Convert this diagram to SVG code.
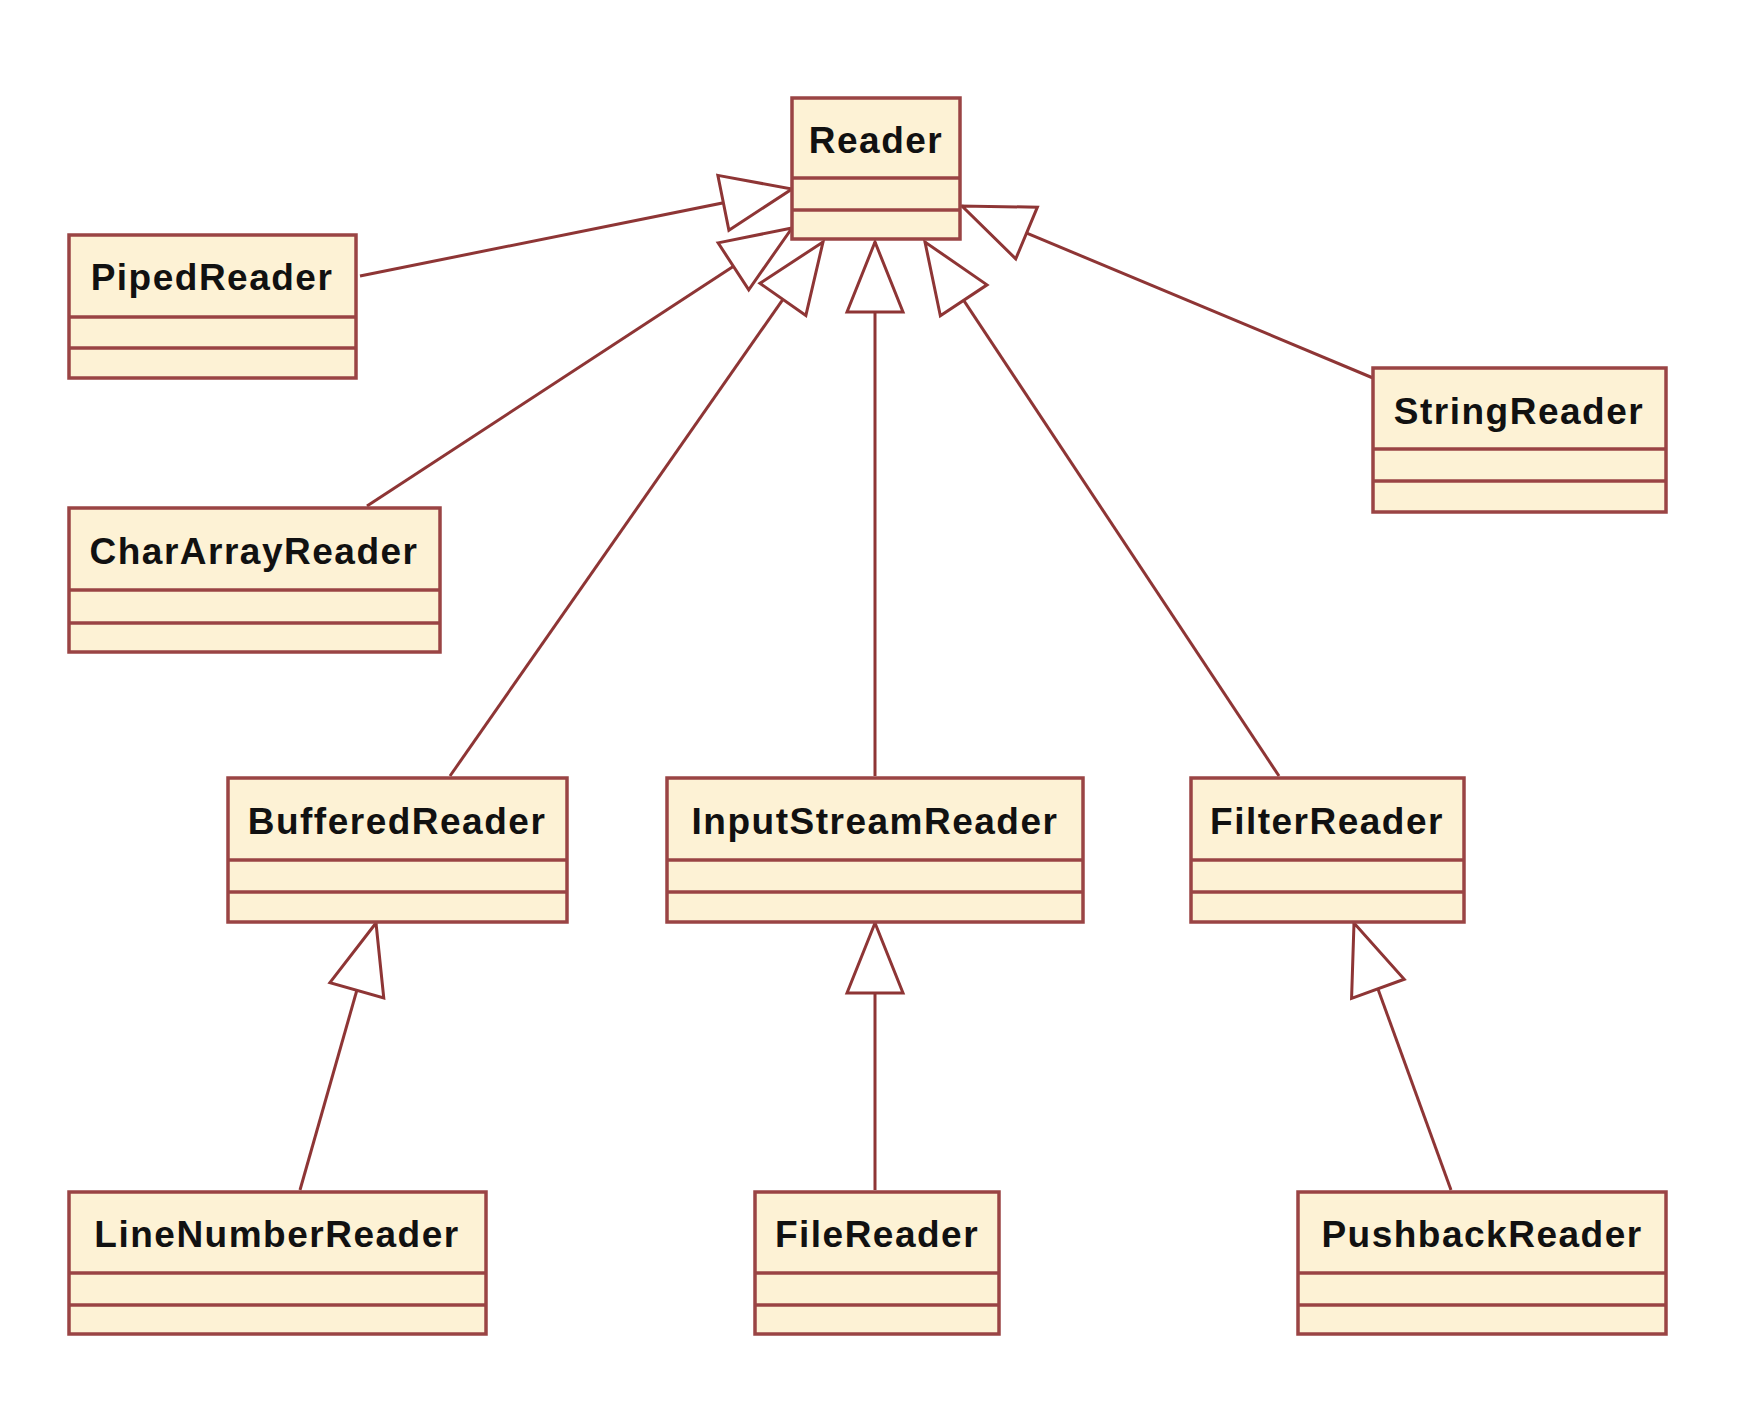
<svg xmlns="http://www.w3.org/2000/svg" width="1738" height="1404" viewBox="0 0 1738 1404">
<style>
.box{fill:#fdf2d5;stroke:#9a4444;stroke-width:3.5}
.sep{stroke:#9a4444;stroke-width:3.5}
.t{font-family:"Liberation Sans",Arial,sans-serif;font-weight:bold;font-size:37px;fill:#111;text-anchor:middle;letter-spacing:1.5px}
.c{stroke:#8e3535;stroke-width:3;fill:none;marker-end:url(#tri)}
</style>
<defs>
<marker id="tri" markerUnits="userSpaceOnUse" markerWidth="80" markerHeight="70" viewBox="-4 -34 80 68" refX="70" refY="0" orient="auto">
<path d="M0,-28 L70,0 L0,28 Z" fill="#fff" stroke="#8e3535" stroke-width="3"/>
</marker>
</defs>
<rect width="1738" height="1404" fill="#fff"/>
<g id="connectors">
<line class="c" x1="360" y1="276" x2="792" y2="189"/>
<line class="c" x1="367" y1="506" x2="792" y2="228"/>
<line class="c" x1="450" y1="776" x2="823" y2="242"/>
<line class="c" x1="875" y1="776" x2="875" y2="242"/>
<line class="c" x1="1279" y1="776" x2="925" y2="242"/>
<line class="c" x1="1373" y1="378" x2="962" y2="206"/>
<line class="c" x1="300" y1="1190" x2="376" y2="923"/>
<line class="c" x1="875" y1="1190" x2="875" y2="923"/>
<line class="c" x1="1451" y1="1190" x2="1354" y2="923"/>
</g>
<g id="Reader"><rect class="box" x="792" y="98" width="168" height="141"/><line class="sep" x1="792" y1="178" x2="960" y2="178"/><line class="sep" x1="792" y1="210" x2="960" y2="210"/><text class="t" x="876" y="153">Reader</text></g>
<g id="PipedReader"><rect class="box" x="69" y="235" width="287" height="143"/><line class="sep" x1="69" y1="317" x2="356" y2="317"/><line class="sep" x1="69" y1="348" x2="356" y2="348"/><text class="t" x="212" y="290">PipedReader</text></g>
<g id="CharArrayReader"><rect class="box" x="69" y="508" width="371" height="144"/><line class="sep" x1="69" y1="590" x2="440" y2="590"/><line class="sep" x1="69" y1="623" x2="440" y2="623"/><text class="t" x="254" y="564">CharArrayReader</text></g>
<g id="StringReader"><rect class="box" x="1373" y="368" width="293" height="144"/><line class="sep" x1="1373" y1="449" x2="1666" y2="449"/><line class="sep" x1="1373" y1="481" x2="1666" y2="481"/><text class="t" x="1519" y="424">StringReader</text></g>
<g id="BufferedReader"><rect class="box" x="228" y="778" width="339" height="144"/><line class="sep" x1="228" y1="860" x2="567" y2="860"/><line class="sep" x1="228" y1="892" x2="567" y2="892"/><text class="t" x="397" y="834">BufferedReader</text></g>
<g id="InputStreamReader"><rect class="box" x="667" y="778" width="416" height="144"/><line class="sep" x1="667" y1="860" x2="1083" y2="860"/><line class="sep" x1="667" y1="892" x2="1083" y2="892"/><text class="t" x="875" y="834">InputStreamReader</text></g>
<g id="FilterReader"><rect class="box" x="1191" y="778" width="273" height="144"/><line class="sep" x1="1191" y1="860" x2="1464" y2="860"/><line class="sep" x1="1191" y1="892" x2="1464" y2="892"/><text class="t" x="1327" y="834">FilterReader</text></g>
<g id="LineNumberReader"><rect class="box" x="69" y="1192" width="417" height="142"/><line class="sep" x1="69" y1="1273" x2="486" y2="1273"/><line class="sep" x1="69" y1="1305" x2="486" y2="1305"/><text class="t" x="277" y="1247">LineNumberReader</text></g>
<g id="FileReader"><rect class="box" x="755" y="1192" width="244" height="142"/><line class="sep" x1="755" y1="1273" x2="999" y2="1273"/><line class="sep" x1="755" y1="1305" x2="999" y2="1305"/><text class="t" x="877" y="1247">FileReader</text></g>
<g id="PushbackReader"><rect class="box" x="1298" y="1192" width="368" height="142"/><line class="sep" x1="1298" y1="1273" x2="1666" y2="1273"/><line class="sep" x1="1298" y1="1305" x2="1666" y2="1305"/><text class="t" x="1482" y="1247">PushbackReader</text></g>
</svg>
